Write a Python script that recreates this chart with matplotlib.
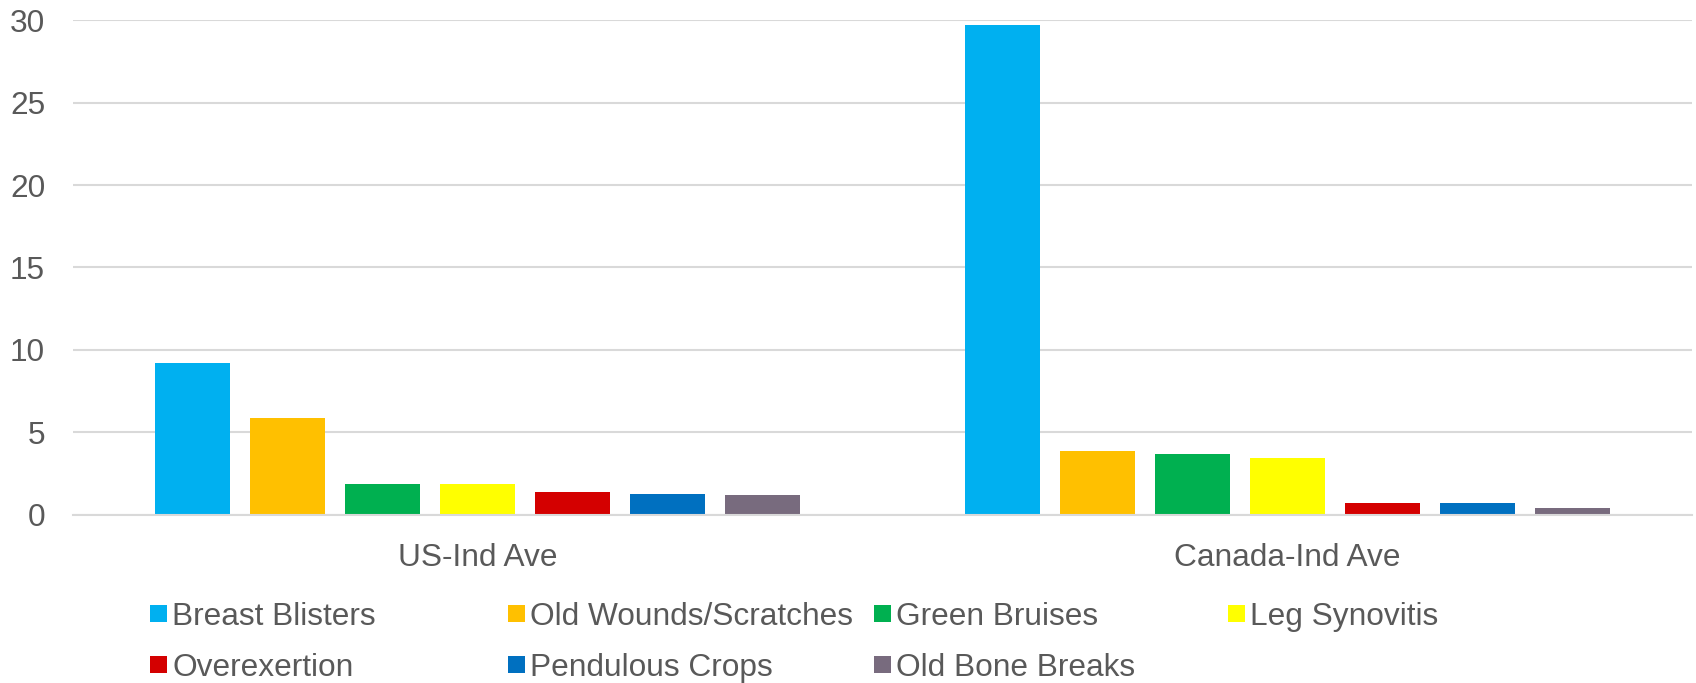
import numpy as np
import matplotlib.pyplot as plt
from matplotlib.patches import Rectangle

plt.rcParams["font.family"] = ["Liberation Sans", "DejaVu Sans"]

# average defect rates per region, one series per defect type
REGIONS = ["US-Ind Ave", "Canada-Ind Ave"]
DEFECTS = ["Breast Blisters", "Old Wounds/Scratches", "Green Bruises", "Leg Synovitis",
           "Overexertion", "Pendulous Crops", "Old Bone Breaks"]
US_VALUES = [9.23, 5.90, 1.88, 1.88, 1.40, 1.25, 1.19]
CANADA_VALUES = [29.69, 3.90, 3.71, 3.48, 0.75, 0.73, 0.44]
COLORS = ["#00B0F0", "#FFC000", "#00B050", "#FFFF00", "#D40000", "#0070C0", "#786B7E"]

TEXT_COLOR = "#595959"
GRID_COLOR = "#D9D9D9"
FONT_SIZE = 22.8


def main():
    figure = plt.figure(figsize=(16.96, 6.83), dpi=100)
    axes = figure.add_axes([73 / 1696, 0.246, (1692 - 73) / 1696, 0.9707 - 0.246])

    values = np.array([US_VALUES, CANADA_VALUES])   # rows: region, cols: defect
    xs_base = np.arange(len(REGIONS))
    slot = 0.1174
    bar_width = 0.0927
    for index, (defect, color) in enumerate(zip(DEFECTS, COLORS)):
        offset = (index - (len(DEFECTS) - 1) / 2) * slot
        axes.bar(xs_base + offset, values[:, index], width=bar_width,
                 color=color, label=defect, zorder=3)

    axes.set_xlim(-0.5, len(REGIONS) - 0.5)
    axes.set_ylim(0, 30)
    axes.set_yticks(np.arange(0, 31, 5))
    axes.set_xticks(xs_base)
    axes.set_xticklabels(REGIONS)
    axes.tick_params(axis="both", length=0, labelsize=FONT_SIZE, labelcolor=TEXT_COLOR)
    axes.tick_params(axis="y", pad=20)
    axes.tick_params(axis="x", pad=20)
    axes.grid(True, axis="y", color=GRID_COLOR, linewidth=1.5, zorder=0)
    for side in ("top", "right", "left"):
        axes.spines[side].set_visible(False)
    axes.spines["bottom"].set_color(GRID_COLOR)
    axes.spines["bottom"].set_linewidth(1.5)
    axes.spines["bottom"].set_zorder(4)

    # legend laid out on a fixed 4-column grid below the axes
    column_x = [150, 508, 874, 1228]
    row_y = [613.5, 664.5]
    marker = 17
    width_px, height_px = 1696, 683
    for index, (defect, color) in enumerate(zip(DEFECTS, COLORS)):
        x = column_x[index % 4]
        y = row_y[index // 4]
        figure.patches.append(Rectangle(
            (x / width_px, 1 - (y + marker / 2) / height_px),
            marker / width_px, marker / height_px,
            transform=figure.transFigure, facecolor=color, edgecolor="none"))
        figure.text((x + marker + 5) / width_px, 1 - y / height_px, defect,
                    fontsize=FONT_SIZE, color=TEXT_COLOR, ha="left", va="center_baseline")

    figure.savefig("out.png", dpi=100)
    plt.close(figure)


if __name__ == "__main__":
    main()
